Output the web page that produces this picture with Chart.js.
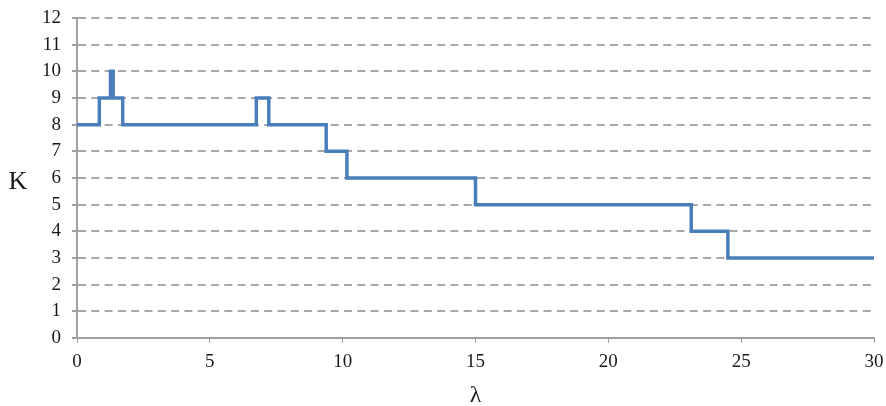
<!DOCTYPE html>
<html>
<head>
<meta charset="utf-8">
<title>K vs lambda</title>
<script src="https://cdn.jsdelivr.net/npm/chart.js"></script>
<style>
  html, body { margin: 0; padding: 0; background: #fff; }
  #wrap { width: 886px; height: 406px; }
</style>
</head>
<body>
<div id="wrap"><canvas id="myChart" width="886" height="406"></canvas></div>
<script>
// lambda where K changes, and the K value from there on
const lambdaSteps = [0, 0.84, 1.26, 1.36, 1.72, 6.75, 7.22, 9.38, 10.16, 15.0, 23.12, 24.5, 30];
const kValues     = [8, 9, 10, 9, 8, 9, 8, 7, 6, 5, 4, 3, 3];
const xTicks = [0, 5, 10, 15, 20, 25, 30];
const yTicks = [0, 1, 2, 3, 4, 5, 6, 7, 8, 9, 10, 11, 12];

const serif = "'Liberation Serif', 'Times New Roman', serif";
const textColor = "#1a1a1a";
const gridColor = "#a8a8a8";
const axisColor = "#a0a0a0";

const axisTitles = {
  id: "axisTitles",
  afterDraw(chart) {
    const { ctx, chartArea } = chart;
    ctx.save();
    ctx.fillStyle = textColor;
    ctx.font = "26px " + serif;
    ctx.textAlign = "center";
    ctx.textBaseline = "middle";
    ctx.fillText("K", 18, (chartArea.top + chartArea.bottom) / 2 + 4);
    ctx.font = "24px " + serif;
    ctx.textBaseline = "alphabetic";
    ctx.fillText("λ", (chartArea.left + chartArea.right) / 2, 402);
    ctx.restore();
  },
};

const ctx = document.getElementById("myChart");
new Chart(ctx, {
  type: "line",
  data: {
    datasets: [{
      label: "K",
      data: lambdaSteps.map((x, i) => ({ x: x, y: kValues[i] })),
      stepped: "before",
      borderColor: "#4a7ebb",
      borderWidth: 3.5,
      pointRadius: 0,
      fill: false,
    }],
  },
  options: {
    responsive: false,
    animation: false,
    layout: { padding: { top: 18, right: 12, left: 0, bottom: 0 } },
    plugins: { legend: { display: false }, tooltip: { enabled: false } },
    scales: {
      x: {
        type: "linear",
        min: 0,
        max: 30,
        afterBuildTicks: (s) => { s.ticks = xTicks.map((v) => ({ value: v })); },
        afterFit: (s) => { s.height = 68; s.paddingLeft = 0; s.paddingRight = 0; },
        grid: { drawOnChartArea: false, drawTicks: true, tickLength: 5, color: axisColor },
        border: { color: axisColor, width: 2 },
        ticks: { color: textColor, font: { family: serif, size: 19 }, padding: 8, maxRotation: 0 },
      },
      y: {
        min: 0,
        max: 12,
        afterBuildTicks: (s) => { s.ticks = yTicks.map((v) => ({ value: v })); },
        afterFit: (s) => { s.width = 77; s.paddingTop = 0; s.paddingBottom = 0; },
        grid: { color: gridColor, lineWidth: 2, tickLength: 5, tickColor: axisColor, tickBorderDash: [] },
        border: { color: axisColor, width: 2, dash: [8, 5.3] },
        ticks: { color: textColor, font: { family: serif, size: 19 }, padding: 11 },
      },
    },
  },
  plugins: [axisTitles],
});
</script>
</body>
</html>
